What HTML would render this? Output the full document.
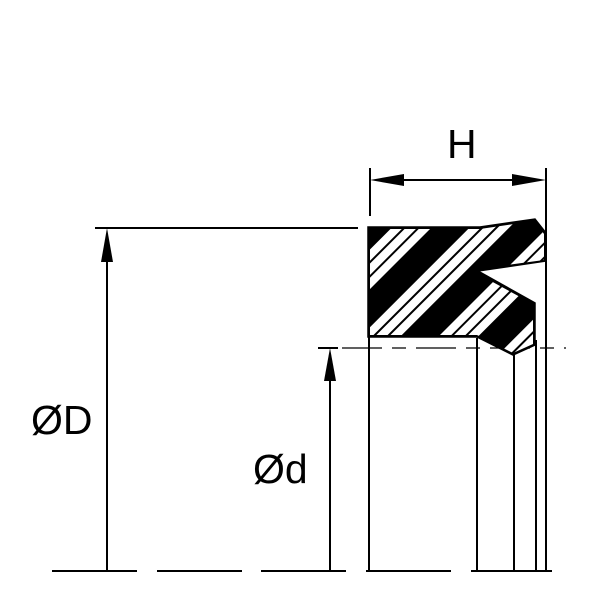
<!DOCTYPE html>
<html><head><meta charset="utf-8"><style>
html,body{margin:0;padding:0;background:#fff;}
svg{display:block}
</style></head><body>
<svg width="600" height="600" viewBox="0 0 600 600" xmlns="http://www.w3.org/2000/svg">
<defs>
<pattern id="st" width="55" height="55" patternUnits="userSpaceOnUse" patternTransform="rotate(45) translate(53,0)">
<rect x="0" y="0" width="8" height="55" fill="#fff"/>
<rect x="10" y="0" width="8" height="55" fill="#fff"/>
<rect x="20" y="0" width="8" height="55" fill="#fff"/>
</pattern>
</defs>
<g stroke="#000" stroke-width="2" fill="none">
<line x1="342" y1="348" x2="566" y2="348" stroke-width="1.2" stroke-dasharray="40 10 14 10"/>
<line x1="52" y1="571" x2="137" y2="571"/>
<line x1="157" y1="571" x2="242" y2="571"/>
<line x1="261" y1="571" x2="346" y2="571"/>
<line x1="366" y1="571" x2="451" y2="571"/>
<line x1="471" y1="571" x2="552" y2="571"/>
<line x1="95" y1="228" x2="358" y2="228"/>
<line x1="107" y1="250" x2="107" y2="571"/>
<line x1="318" y1="348" x2="338" y2="348"/>
<line x1="330" y1="370" x2="330" y2="571"/>
<line x1="370" y1="168" x2="370" y2="216"/>
<line x1="546" y1="168" x2="546" y2="571"/>
<line x1="392" y1="180" x2="524" y2="180"/>
<line x1="369" y1="337" x2="369" y2="571"/>
<line x1="477" y1="338" x2="477" y2="571"/>
<line x1="514" y1="354" x2="514" y2="571"/>
<line x1="536" y1="340" x2="536" y2="571"/>
</g>
<g fill="#000">
<polygon points="107,228 101,262 113,262"/>
<polygon points="330,348 324,381 336,381"/>
<polygon points="370,180 404,174 404,186"/>
<polygon points="546,180 512,174 512,186"/>
</g>
<polygon points="368,227 480,227 535,219 546,233 546,261 478,271 535,303 535,345 513,355 477,337 368,337" fill="#000" stroke="#000" stroke-width="1.5"/>
<polygon points="370,229 480,229 535,221 544,234 544,260 478,269 478,274 533,304 533,344 513,353 477,335 370,335" fill="url(#st)"/>
<g font-family="Liberation Sans, sans-serif" font-size="41" fill="#000">
<text x="447" y="158">H</text>
<text x="31" y="434">ØD</text>
<text x="253" y="483">Ød</text>
</g>
</svg>
</body></html>
